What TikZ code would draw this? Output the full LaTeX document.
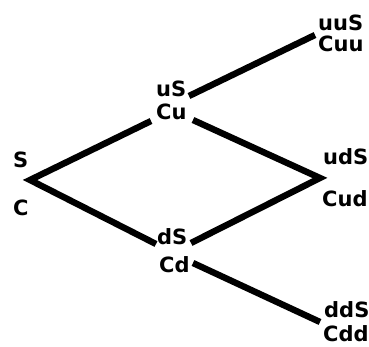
\documentclass[tikz,border=0pt]{standalone}
\usepackage{fontspec}
\newfontfamily\lblfont{DejaVu Sans}
\begin{document}
\begin{tikzpicture}[x=1pt,y=-1pt,
  lbl/.style={anchor=base west,inner sep=0pt,font=\lblfont\bfseries\fontsize{21}{24}\selectfont},
  branch/.style={line width=6.4pt,line join=miter,miter limit=20}]
\useasboundingbox (0,0) rectangle (369,347);
% labels
\node[lbl] (S) at (13,168) {S};
\node[lbl] (C) at (13,216) {C};
\node[lbl] (uS) at (156,97) {uS};
\node[lbl] (Cu) at (156,120) {Cu};
\node[lbl] (dS) at (157,244) {dS};
\node[lbl] (Cd) at (159,272) {Cd};
\node[lbl] (uuS) at (318,31) {uuS};
\node[lbl] (Cuu) at (318,52) {Cuu};
\node[lbl] (udS) at (323,165) {udS};
\node[lbl] (Cud) at (322,207) {Cud};
\node[lbl] (ddS) at (324,317) {ddS};
\node[lbl] (Cdd) at (323,341) {Cdd};
% lattice points
\coordinate (root) at (30,180);
\coordinate (uin) at (151,121);
\coordinate (uoutA) at (189,96);
\coordinate (uoutB) at (193,120);
\coordinate (uuend) at (315,35);
\coordinate (ud) at (320,178);
\coordinate (din) at (156,244);
\coordinate (doutA) at (191,243);
\coordinate (doutB) at (193,263);
\coordinate (ddend) at (320,322);
% branches
\draw[branch] (uin) -- (root) -- (din);
\draw[branch] (uoutA) -- (uuend);
\draw[branch] (uoutB) -- (ud) -- (doutA);
\draw[branch] (doutB) -- (ddend);
\end{tikzpicture}
\end{document}
